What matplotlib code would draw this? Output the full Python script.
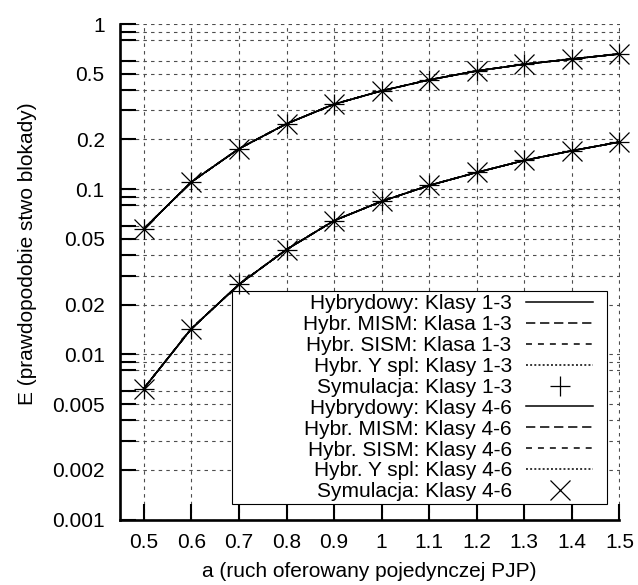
import matplotlib
matplotlib.use('Agg')
import matplotlib.pyplot as plt
from matplotlib.patches import Rectangle

plt.rcParams['font.family'] = ['Liberation Sans', 'DejaVu Sans']
plt.rcParams['lines.scale_dashes'] = False

# offered traffic per PJP
a = [0.5, 0.6, 0.7, 0.8, 0.9, 1.0, 1.1, 1.2, 1.3, 1.4, 1.5]
# blocking probability, upper and lower curve (same in every method)
E_high = [0.0575, 0.1105, 0.1757, 0.2488, 0.327, 0.394, 0.459, 0.520, 0.571, 0.614, 0.659]
E_low = [0.00621, 0.0143, 0.0265, 0.0431, 0.0645, 0.0844, 0.1054, 0.1263, 0.1493, 0.1709, 0.1929]

x_ticks = [0.5, 0.6, 0.7, 0.8, 0.9, 1.0, 1.1, 1.2, 1.3, 1.4, 1.5]
x_labels = ['0.5', '0.6', '0.7', '0.8', '0.9', '1', '1.1', '1.2', '1.3', '1.4', '1.5']
y_ticks = [1, 0.9, 0.8, 0.6, 0.5, 0.4, 0.3, 0.2,
           0.1, 0.09, 0.08, 0.06, 0.05, 0.04, 0.03, 0.02,
           0.01, 0.009, 0.008, 0.006, 0.005, 0.004, 0.003, 0.002, 0.001]
y_labels = ['1', '', '', '', '0.5', '', '', '0.2',
            '0.1', '', '', '', '0.05', '', '', '0.02',
            '0.01', '', '', '', '0.005', '', '', '0.002', '0.001']

groups = ['Klasy 1-3', 'Klasy 4-6']
methods = ['Hybrydowy', 'Hybr. MISM', 'Hybr. SISM', 'Hybr. Y spl']
# label text exactly as in the original (MISM/SISM of 1-3 say "Klasa")
labels = {
    'Klasy 1-3': ['Hybrydowy: Klasy 1-3', 'Hybr. MISM: Klasa 1-3', 'Hybr. SISM: Klasa 1-3',
                  'Hybr. Y spl: Klasy 1-3', 'Symulacja: Klasy 1-3'],
    'Klasy 4-6': ['Hybrydowy: Klasy 4-6', 'Hybr. MISM: Klasy 4-6', 'Hybr. SISM: Klasy 4-6',
                  'Hybr. Y spl: Klasy 4-6', 'Symulacja: Klasy 4-6'],
}
styles = ['-', (0, (6.7, 3.4)), (0, (4.3, 4.3)), (0, (1.4, 1.6))]
sim_markers = {'Klasy 1-3': '+', 'Klasy 4-6': 'x'}

W, H = 638, 585
fig = plt.figure(figsize=(W / 100, H / 100), dpi=100)
x0, x1, yb, yt = 120, 619.5, 519.5, 24
ax = fig.add_axes([x0 / W, 1 - yb / H, (x1 - x0) / W, (yb - yt) / H])

handles = []
for g in groups:
    for i, m in enumerate(methods):
        for k, E in enumerate([E_high, E_low]):
            ln, = ax.plot(a, E, color='black', lw=1.1, linestyle=styles[i],
                          zorder=2.2 if i == 0 else 2.1)
            if k == 0:
                handles.append(ln)
    for k, E in enumerate([E_high, E_low]):
        mk, = ax.plot(a, E, linestyle='none', marker=sim_markers[g], color='black',
                      ms=14, mew=0.9, zorder=3, clip_on=False)
        if k == 0:
            handles.append(mk)

leg_labels = labels['Klasy 1-3'] + labels['Klasy 4-6']

ax.set_yscale('log')
ax.set_xlim(0.45, 1.5)
ax.set_ylim(0.001, 1)
ax.set_xticks(x_ticks, labels=x_labels)
ax.set_yticks(y_ticks, labels=y_labels)
ax.minorticks_off()
ax.tick_params(direction='in', length=11.5, width=1.5, labelsize=15)
ax.tick_params(axis='x', pad=9.5)
ax.tick_params(axis='y', pad=11)
for s in ['top', 'right']:
    ax.spines[s].set_visible(False)
for s in ['left', 'bottom']:
    ax.spines[s].set_linewidth(1.9)
ax.set_axisbelow(True)
ax.grid(True, color='0.3', lw=0.8, linestyle=(0, (2.5, 3)))

ax.set_xlabel('a (ruch oferowany pojedynczej PJP)', fontsize=15, labelpad=7.6)
fig.text(27.5 / W, 1 - 254 / H, 'E (prawdopodobie stwo blokady)', rotation=90,
         ha='center', va='center', fontsize=15)

# legend box (gnuplot style, wide white frame)
box = Rectangle((231.7 / W, 1 - 504 / H), (606.7 - 231.7) / W, (504 - 291) / H,
                transform=fig.transFigure, facecolor='white', edgecolor='black',
                lw=0.8, zorder=2.5, clip_on=False)
ax.add_patch(box)

leg = ax.legend(handles, leg_labels, loc='upper right', markerfirst=False,
                frameon=False, fontsize=15, borderpad=0, borderaxespad=0,
                handlelength=3.2, handletextpad=0.7, labelspacing=0.09,
                numpoints=1, bbox_to_anchor=(593 / W, 1 - 294.4 / H),
                bbox_transform=fig.transFigure)
leg.set_zorder(5)

fig.savefig('out.png', dpi=100)
